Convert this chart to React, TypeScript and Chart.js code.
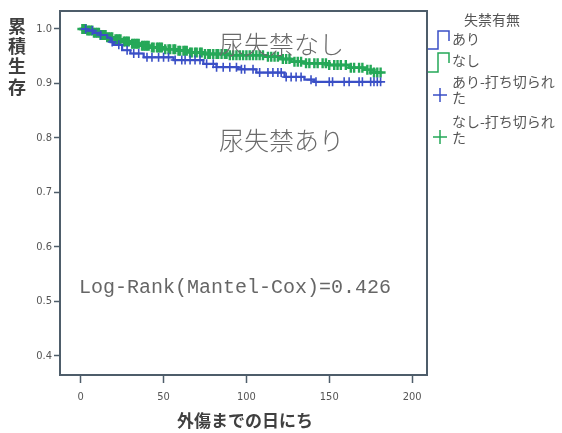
import React, { useEffect, useRef } from "react";
import { Chart, registerables } from "chart.js";

Chart.register(...registerables);

// ---- data ----
const xTicks = [0, 50, 100, 150, 200];
const yTicks = [0.4, 0.5, 0.6, 0.7, 0.8, 0.9, 1.0];

// 尿失禁なし (green) survival steps
const nashiTimes = [0, 4, 8, 12, 16, 20, 25, 30, 36, 42, 50, 58, 66, 75, 90, 112, 120, 127, 135, 150, 162, 172, 177, 181];
const nashiSurv = [1.0, 0.997, 0.993, 0.989, 0.985, 0.981, 0.977, 0.973, 0.969, 0.966, 0.963, 0.96, 0.957, 0.954, 0.952, 0.949, 0.945, 0.94, 0.937, 0.934, 0.929, 0.925, 0.92, 0.92];
const nashiCensor = [1, 2, 3, 4, 5, 6, 7, 8, 9, 10, 11, 12, 13, 14, 15, 16, 17, 18, 19, 21, 22, 23, 24, 26, 27, 28, 29, 31, 32, 33, 34, 35, 37, 38, 39, 40, 41, 43, 44, 46, 47, 48, 49, 51, 53, 54, 56, 57, 59, 60, 62, 63, 64, 66, 67, 69, 70, 72, 73, 75, 77, 78, 80, 82, 83, 85, 87, 88, 90, 92, 94, 96, 98, 100, 102, 104, 106, 108, 110, 113, 115, 117, 119, 122, 124, 126, 129, 131, 133, 136, 138, 141, 143, 146, 148, 150, 153, 155, 157, 160, 163, 165, 168, 170, 173, 175, 177, 179, 181];

// 尿失禁あり (blue) survival steps
const ariTimes = [0, 4, 8, 12, 16, 18, 20, 25, 30, 38, 56, 74, 82, 95, 106, 123, 135, 141, 181];
const ariSurv = [1.0, 0.997, 0.993, 0.989, 0.984, 0.976, 0.971, 0.961, 0.955, 0.948, 0.943, 0.936, 0.93, 0.926, 0.92, 0.912, 0.907, 0.903, 0.903];
const ariCensor = [3, 7, 12, 19, 23, 28, 32, 35, 40, 43, 47, 50, 53, 57, 61, 63, 66, 69, 72, 76, 80, 82, 86, 90, 94, 97, 99, 104, 108, 113, 116, 119, 121, 124, 127, 130, 133, 139, 142, 150, 152, 159, 162, 168, 170, 175, 177, 179, 181];

const yTitle = "累積生存";
const xTitle = "外傷までの日にち";
const legendTitle = "失禁有無";
const legendLabels = ["あり", "なし", "あり-打ち切られ", "た", "なし-打ち切られ", "た"];
const annoNashi = "尿失禁なし";
const annoAri = "尿失禁あり";
const annoLogRank = "Log-Rank(Mantel-Cox)=0.426";

// ---- styles ----
const BLUE = "#3a4fc6";
const GREEN = "#25a858";
const FRAME = "#4e5d6a";
const TEXT = "#555555";
const CJK = '"Noto Sans CJK JP", "Noto Sans", sans-serif';
const TICKFONT = '"Liberation Sans Narrow", "DejaVu Sans Condensed", "Liberation Sans", sans-serif';

function survAt(times: number[], surv: number[], t: number) {
  let s = surv[0];
  for (let i = 0; i < times.length; i++) if (times[i] <= t) s = surv[i];
  return s;
}

const overlayPlugin = {
  id: "overlay",
  afterDraw(chart: any) {
    const ctx = chart.ctx as CanvasRenderingContext2D;
    const a = chart.chartArea;
    ctx.save();
    // frame
    ctx.strokeStyle = FRAME;
    ctx.lineWidth = 2;
    ctx.strokeRect(a.left, a.top, a.right - a.left, a.bottom - a.top);

    // y title (vertical stacked)
    ctx.fillStyle = "#404040";
    ctx.font = `bold 18px ${CJK}`;
    ctx.textAlign = "center";
    ctx.textBaseline = "middle";
    const yc = [26, 46, 66, 87];
    Array.from(yTitle).forEach((c, i) => ctx.fillText(c, 17, yc[i]));

    // x title
    ctx.font = `bold 17px ${CJK}`;
    ctx.fillText(xTitle, 245, 421);

    // annotations
    ctx.textAlign = "left";
    ctx.fillStyle = "#6a6a6a";
    ctx.font = `300 25px ${CJK}`;
    ctx.fillText(annoNashi, 219, 44);
    ctx.fillText(annoAri, 219, 140);
    ctx.fillStyle = "#666666";
    ctx.font = `20px "Liberation Mono", "DejaVu Sans Mono", monospace`;
    ctx.fillText(annoLogRank, 79, 288);

    // legend
    ctx.fillStyle = TEXT;
    ctx.font = `14px ${CJK}`;
    ctx.textAlign = "center";
    ctx.fillText(legendTitle, 492, 20);
    ctx.textAlign = "left";
    const ly = [39, 61, 82, 98, 122, 138];
    legendLabels.forEach((t, i) => ctx.fillText(t, 452, ly[i]));

    ctx.lineWidth = 1.5;
    const stepIcon = (color: string, yb: number, yt: number, ye: number) => {
      ctx.strokeStyle = color;
      ctx.beginPath();
      ctx.moveTo(428, yb);
      ctx.lineTo(438, yb);
      ctx.lineTo(438, yt);
      ctx.lineTo(449, yt);
      ctx.lineTo(449, ye);
      ctx.stroke();
    };
    stepIcon(BLUE, 49, 31, 41);
    stepIcon(GREEN, 72, 53, 63);
    const cross = (color: string, cx: number, cy: number) => {
      ctx.strokeStyle = color;
      ctx.beginPath();
      ctx.moveTo(cx - 7, cy);
      ctx.lineTo(cx + 7, cy);
      ctx.moveTo(cx, cy - 7);
      ctx.lineTo(cx, cy + 7);
      ctx.stroke();
    };
    cross(BLUE, 440, 95);
    cross(GREEN, 440, 137);
    ctx.restore();
  },
};

export default function App() {
  const ref = useRef<HTMLCanvasElement | null>(null);
  useEffect(() => {
    if (!ref.current) return;
    const ariLine = ariTimes.map((t, i) => ({ x: t, y: ariSurv[i] }));
    const nashiLine = nashiTimes.map((t, i) => ({ x: t, y: nashiSurv[i] }));
    const ariC = ariCensor.map((t) => ({ x: t, y: survAt(ariTimes, ariSurv, t) }));
    const nashiC = nashiCensor.map((t) => ({ x: t, y: survAt(nashiTimes, nashiSurv, t) }));
    const chart = new Chart(ref.current, {
      type: "line",
      data: {
        datasets: [
          { label: "あり", data: ariLine, borderColor: BLUE, borderWidth: 2.2, stepped: true, pointRadius: 0, fill: false },
          { label: "あり-打ち切られた", data: ariC, showLine: false, pointStyle: "cross", pointRadius: 4.5, borderColor: BLUE, borderWidth: 1.6 },
          { label: "なし", data: nashiLine, borderColor: GREEN, borderWidth: 2.5, stepped: true, pointRadius: 0, fill: false },
          { label: "なし-打ち切られた", data: nashiC, showLine: false, pointStyle: "cross", pointRadius: 5, borderColor: GREEN, borderWidth: 2.4 },
        ] as any,
      },
      options: {
        animation: false,
        responsive: false,
        devicePixelRatio: 1,
        layout: { padding: { left: 0, right: 135, top: 11, bottom: 0 } },
        plugins: { legend: { display: false }, tooltip: { enabled: false } },
        scales: {
          x: {
            type: "linear",
            min: -12.5,
            max: 209,
            afterBuildTicks: (s: any) => {
              s.ticks = xTicks.map((v) => ({ value: v }));
            },
            afterFit: (s: any) => {
              s.height = 58;
            },
            grid: { drawOnChartArea: false, drawTicks: true, tickLength: 8, tickColor: FRAME, tickWidth: 1.5 },
            border: { display: true, color: FRAME, width: 2 },
            ticks: { color: TEXT, font: { family: TICKFONT, size: 11 }, padding: 8, maxRotation: 0 },
          },
          y: {
            type: "linear",
            min: 0.365,
            max: 1.033,
            afterBuildTicks: (s: any) => {
              s.ticks = yTicks.map((v) => ({ value: v }));
            },
            afterFit: (s: any) => {
              s.width = 60;
            },
            grid: { drawOnChartArea: false, drawTicks: true, tickLength: 6, tickColor: FRAME, tickWidth: 1.5 },
            border: { display: true, color: FRAME, width: 2 },
            ticks: { color: TEXT, font: { family: TICKFONT, size: 11 }, padding: 2, callback: (v: any) => Number(v).toFixed(1) },
          },
        },
      } as any,
      plugins: [overlayPlugin],
    });
    return () => chart.destroy();
  }, []);
  return (
    <div style={{ position: "absolute", left: 0, top: 0, width: 562, height: 433, background: "#fff" }}>
      <canvas ref={ref} width={562} height={433} style={{ width: 562, height: 433 }} />
    </div>
  );
}
